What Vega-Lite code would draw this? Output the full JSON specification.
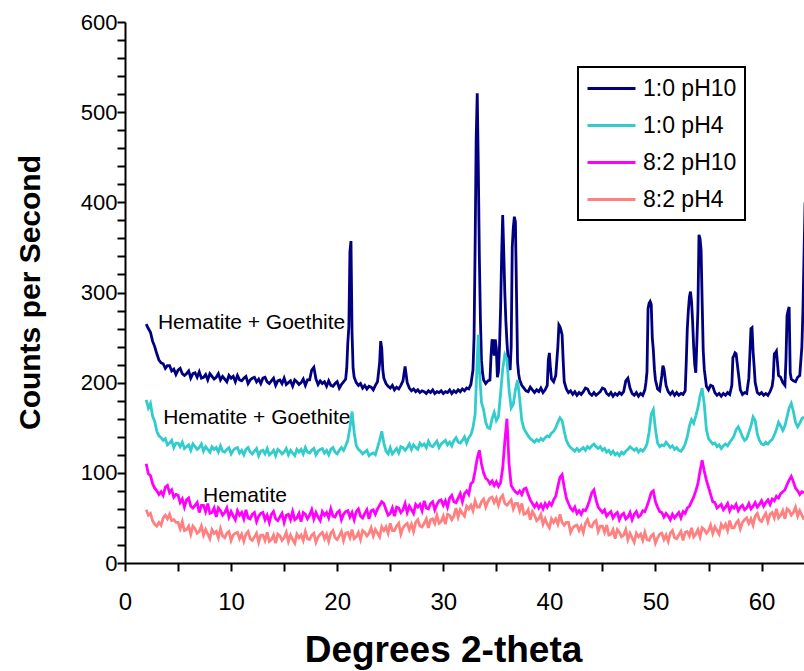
{
"$schema": "https://vega.github.io/schema/vega-lite/v6.json",
"autosize": {"type": "none"},
"width": 679,
"height": 541,
"padding": {"left": 125, "top": 22, "right": 0, "bottom": 108},
"background": "white",
"config": {
  "view": {"stroke": null},
  "font": "Liberation Sans",
  "axis": {"domainColor": "black", "domainWidth": 2, "tickColor": "black", "tickWidth": 2, "tickSize": 8, "labelColor": "black", "titleColor": "black", "grid": false, "labelFont": "Liberation Sans", "titleFont": "Liberation Sans", "labelOverlap": false, "labelFlush": false, "labelBound": false, "tickCount": 100},
  "legend": {"labelFont": "Liberation Sans", "strokeWidth": 2}
},
"datasets": {
"a": [
{"x":2,"y":265},{"x":2.2,"y":260},{"x":2.4,"y":256},{"x":2.6,"y":246},{"x":2.8,"y":240},{"x":3,"y":232},{"x":3.2,"y":225},{"x":3.4,"y":222},{"x":3.6,"y":221},{"x":3.8,"y":216},{"x":4,"y":219},
{"x":4.2,"y":219},{"x":4.4,"y":213},{"x":4.6,"y":215},{"x":4.8,"y":209},{"x":5,"y":214},{"x":5.2,"y":216},{"x":5.4,"y":210},{"x":5.6,"y":208},{"x":5.8,"y":210},{"x":6,"y":213},{"x":6.2,"y":205},{"x":6.4,"y":210},{"x":6.6,"y":211},{"x":6.8,"y":206},{"x":7,"y":212},{"x":7.2,"y":205},{"x":7.4,"y":206},{"x":7.6,"y":209},{"x":7.8,"y":203},{"x":8,"y":210},{"x":8.2,"y":207},{"x":8.4,"y":204},{"x":8.6,"y":206},{"x":8.8,"y":210},{"x":9,"y":203},{"x":9.2,"y":207},{"x":9.4,"y":204},{"x":9.6,"y":201},{"x":9.8,"y":208},{"x":10,"y":205},{"x":10.2,"y":207},{"x":10.4,"y":201},{"x":10.6,"y":208},{"x":10.8,"y":203},{"x":11,"y":202},{"x":11.2,"y":205},{"x":11.4,"y":207},{"x":11.6,"y":199},{"x":11.8,"y":203},{"x":12,"y":205},{"x":12.2,"y":206},{"x":12.4,"y":201},{"x":12.6,"y":204},{"x":12.8,"y":199},{"x":13,"y":205},{"x":13.2,"y":206},{"x":13.4,"y":201},{"x":13.6,"y":199},{"x":13.8,"y":202},{"x":14,"y":205},{"x":14.2,"y":197},{"x":14.4,"y":202},{"x":14.6,"y":203},{"x":14.8,"y":199},{"x":15,"y":205},{"x":15.2,"y":198},{"x":15.4,"y":200},{"x":15.6,"y":202},{"x":15.8,"y":196},{"x":16,"y":203},{"x":16.2,"y":201},{"x":16.4,"y":198},{"x":16.6,"y":200},{"x":16.8,"y":204},{"x":17,"y":197},{"x":17.2,"y":203},{"x":17.4,"y":203},{"x":17.6,"y":214},{"x":17.8,"y":217},{"x":18,"y":204},{"x":18.2,"y":198},{"x":18.4,"y":202},{"x":18.6,"y":199},{"x":18.8,"y":201},{"x":19,"y":196},{"x":19.2,"y":202},{"x":19.4,"y":197},{"x":19.6,"y":196},{"x":19.8,"y":199},{"x":20,"y":201},{"x":20.2,"y":194},{"x":20.4,"y":198},{"x":20.6,"y":201},
{"x":20.8,"y":204},{"x":20.9,"y":216},{"x":21,"y":244},{"x":21.1,"y":262},{"x":21.2,"y":345},{"x":21.3,"y":357},{"x":21.4,"y":255},{"x":21.5,"y":216},{"x":21.6,"y":206},{"x":21.8,"y":200},{"x":22,"y":197},{"x":22.2,"y":199},{"x":22.4,"y":194},{"x":22.6,"y":197},{"x":22.8,"y":193},{"x":23,"y":196},{"x":23.2,"y":195},{"x":23.4,"y":192},{"x":23.6,"y":197},{"x":23.8,"y":201},{"x":24,"y":222},{"x":24.1,"y":246},{"x":24.2,"y":238},{"x":24.3,"y":214},{"x":24.4,"y":205},{"x":24.6,"y":199},{"x":24.8,"y":196},{"x":25,"y":194},{"x":25.2,"y":197},{"x":25.4,"y":192},{"x":25.6,"y":195},{"x":25.8,"y":193},{"x":26,"y":197},{"x":26.2,"y":202},{"x":26.4,"y":218},{"x":26.6,"y":200},{"x":26.8,"y":194},{"x":27,"y":191},{"x":27.2,"y":193},{"x":27.4,"y":190},{"x":27.6,"y":192},{"x":27.8,"y":189},{"x":28,"y":191},{"x":28.2,"y":190},{"x":28.4,"y":188},{"x":28.6,"y":191},{"x":28.8,"y":189},{"x":29,"y":192},{"x":29.2,"y":188},{"x":29.4,"y":190},{"x":29.6,"y":189},{"x":29.8,"y":191},{"x":30,"y":188},{"x":30.2,"y":190},{"x":30.4,"y":189},{"x":30.6,"y":192},{"x":30.8,"y":188},{"x":31,"y":191},{"x":31.2,"y":189},{"x":31.4,"y":192},{"x":31.6,"y":190},{"x":31.8,"y":193},{"x":32,"y":191},{"x":32.2,"y":194},{"x":32.4,"y":193},{"x":32.6,"y":198},{"x":32.8,"y":214},{"x":32.9,"y":250},{"x":33,"y":350},{"x":33.1,"y":470},{"x":33.2,"y":521},{"x":33.3,"y":440},{"x":33.4,"y":340},{"x":33.5,"y":270},{"x":33.6,"y":225},{"x":33.7,"y":211},{"x":33.8,"y":203},{"x":34,"y":199},{"x":34.2,"y":202},{"x":34.4,"y":203},{"x":34.5,"y":230},{"x":34.6,"y":248},{"x":34.7,"y":245},{"x":34.8,"y":230},{"x":34.9,"y":248},{"x":35,"y":238},{"x":35.1,"y":206},{"x":35.2,"y":212},{"x":35.3,"y":240},{"x":35.4,"y":281},{"x":35.5,"y":340},{"x":35.6,"y":386},{"x":35.7,"y":345},{"x":35.8,"y":300},{"x":35.9,"y":268},{"x":36,"y":245},{"x":36.1,"y":228},{"x":36.2,"y":217},{"x":36.3,"y":214},{"x":36.4,"y":240},{"x":36.5,"y":350},{"x":36.6,"y":372},{"x":36.7,"y":384},{"x":36.8,"y":378},{"x":36.9,"y":300},{"x":37,"y":223},{"x":37.1,"y":210},{"x":37.2,"y":203},{"x":37.4,"y":197},{"x":37.6,"y":194},{"x":37.8,"y":191},{"x":38,"y":190},{"x":38.2,"y":195},{"x":38.4,"y":192},{"x":38.6,"y":189},{"x":38.8,"y":192},{"x":39,"y":190},{"x":39.2,"y":194},{"x":39.4,"y":189},{"x":39.6,"y":192},{"x":39.8,"y":197},{"x":39.9,"y":225},{"x":40,"y":233},{"x":40.1,"y":216},{"x":40.2,"y":204},{"x":40.4,"y":201},{"x":40.6,"y":208},{"x":40.8,"y":240},{"x":40.9,"y":264},{"x":41,"y":262},{"x":41.1,"y":258},{"x":41.2,"y":253},{"x":41.3,"y":225},{"x":41.4,"y":201},{"x":41.6,"y":193},{"x":41.8,"y":189},{"x":42,"y":191},{"x":42.2,"y":187},{"x":42.4,"y":190},{"x":42.6,"y":186},{"x":42.8,"y":189},{"x":43,"y":187},{"x":43.2,"y":190},{"x":43.4,"y":194},{"x":43.6,"y":193},{"x":43.8,"y":188},{"x":44,"y":186},{"x":44.2,"y":189},{"x":44.4,"y":186},{"x":44.6,"y":188},{"x":44.8,"y":190},{"x":45,"y":194},{"x":45.2,"y":193},{"x":45.4,"y":188},{"x":45.6,"y":186},{"x":45.8,"y":189},{"x":46,"y":185},{"x":46.2,"y":188},{"x":46.4,"y":186},{"x":46.6,"y":189},{"x":46.8,"y":187},{"x":47,"y":190},{"x":47.2,"y":202},{"x":47.4,"y":205},{"x":47.6,"y":194},{"x":47.8,"y":188},{"x":48,"y":186},{"x":48.2,"y":189},{"x":48.4,"y":185},{"x":48.6,"y":188},{"x":48.8,"y":186},{"x":49,"y":192},{"x":49.1,"y":200},{"x":49.2,"y":212},{"x":49.3,"y":282},{"x":49.4,"y":288},{"x":49.5,"y":290},{"x":49.6,"y":287},{"x":49.7,"y":250},{"x":49.8,"y":236},{"x":49.9,"y":215},{"x":50,"y":203},{"x":50.2,"y":193},{"x":50.4,"y":191},{"x":50.6,"y":208},{"x":50.7,"y":219},{"x":50.8,"y":215},{"x":51,"y":197},{"x":51.2,"y":190},{"x":51.4,"y":187},{"x":51.6,"y":190},{"x":51.8,"y":186},{"x":52,"y":189},{"x":52.2,"y":186},{"x":52.4,"y":188},{"x":52.6,"y":187},{"x":52.8,"y":191},{"x":52.9,"y":222},{"x":53,"y":260},{"x":53.1,"y":280},{"x":53.2,"y":295},{"x":53.3,"y":301},{"x":53.4,"y":290},{"x":53.5,"y":268},{"x":53.6,"y":240},{"x":53.7,"y":220},{"x":53.8,"y":211},{"x":53.9,"y":245},{"x":54,"y":280},{"x":54.1,"y":364},{"x":54.2,"y":360},{"x":54.3,"y":347},{"x":54.4,"y":290},{"x":54.5,"y":236},{"x":54.6,"y":215},{"x":54.8,"y":196},{"x":55,"y":192},{"x":55.2,"y":197},{"x":55.4,"y":196},{"x":55.6,"y":189},{"x":55.8,"y":186},{"x":56,"y":188},{"x":56.2,"y":185},{"x":56.4,"y":188},{"x":56.6,"y":186},{"x":56.8,"y":189},{"x":57,"y":187},{"x":57.2,"y":197},{"x":57.3,"y":228},{"x":57.4,"y":230},{"x":57.5,"y":233},{"x":57.6,"y":232},{"x":57.8,"y":212},{"x":58,"y":192},{"x":58.2,"y":187},{"x":58.4,"y":189},{"x":58.6,"y":188},{"x":58.8,"y":205},{"x":58.9,"y":232},{"x":59,"y":260},{"x":59.1,"y":261},{"x":59.2,"y":235},{"x":59.3,"y":218},{"x":59.4,"y":200},{"x":59.6,"y":189},{"x":59.8,"y":187},{"x":60,"y":189},{"x":60.2,"y":186},{"x":60.4,"y":188},{"x":60.6,"y":186},{"x":60.8,"y":190},{"x":61,"y":196},{"x":61.1,"y":205},{"x":61.2,"y":232},{"x":61.3,"y":233},{"x":61.4,"y":235},{"x":61.5,"y":222},{"x":61.6,"y":208},{"x":61.8,"y":206},{"x":62,"y":200},{"x":62.2,"y":197},{"x":62.3,"y":225},{"x":62.4,"y":274},{"x":62.5,"y":280},{"x":62.6,"y":284},{"x":62.7,"y":211},{"x":62.8,"y":204},{"x":63,"y":202},{"x":63.2,"y":201},{"x":63.4,"y":206},{"x":63.6,"y":208},{"x":63.8,"y":240},{"x":63.9,"y":280},{"x":64,"y":340},{"x":64.1,"y":400}
],
"b": [
{"x":2,"y":181},{"x":2.2,"y":172},{"x":2.4,"y":177},{"x":2.6,"y":163},{"x":2.8,"y":157},{"x":3,"y":146},{"x":3.2,"y":141},{"x":3.4,"y":139},{"x":3.6,"y":136},{"x":3.8,"y":138},{"x":4,"y":131},{"x":4.2,"y":133},{"x":4.4,"y":136},{"x":4.6,"y":128},{"x":4.8,"y":133},{"x":5,"y":133},{"x":5.2,"y":129},{"x":5.4,"y":134},{"x":5.6,"y":127},{"x":5.8,"y":129},{"x":6,"y":131},{"x":6.2,"y":125},{"x":6.4,"y":132},{"x":6.6,"y":129},{"x":6.8,"y":126},{"x":7,"y":128},{"x":7.2,"y":132},{"x":7.4,"y":124},{"x":7.6,"y":129},{"x":7.8,"y":126},{"x":8,"y":123},{"x":8.2,"y":129},{"x":8.4,"y":126},{"x":8.6,"y":128},{"x":8.8,"y":123},{"x":9,"y":130},{"x":9.2,"y":124},{"x":9.4,"y":123},{"x":9.6,"y":126},{"x":9.8,"y":128},{"x":10,"y":121},{"x":10.2,"y":125},{"x":10.4,"y":127},{"x":10.6,"y":128},{"x":10.8,"y":122},{"x":11,"y":125},{"x":11.2,"y":120},{"x":11.4,"y":126},{"x":11.6,"y":128},{"x":11.8,"y":123},{"x":12,"y":121},{"x":12.2,"y":124},{"x":12.4,"y":127},{"x":12.6,"y":119},{"x":12.8,"y":124},{"x":13,"y":125},{"x":13.2,"y":121},{"x":13.4,"y":127},{"x":13.6,"y":120},{"x":13.8,"y":122},{"x":14,"y":125},{"x":14.2,"y":119},{"x":14.4,"y":126},{"x":14.6,"y":124},{"x":14.8,"y":121},{"x":15,"y":123},{"x":15.2,"y":127},{"x":15.4,"y":120},{"x":15.6,"y":125},{"x":15.8,"y":122},{"x":16,"y":119},{"x":16.2,"y":126},{"x":16.4,"y":123},{"x":16.6,"y":126},{"x":16.8,"y":121},{"x":17,"y":128},{"x":17.2,"y":123},{"x":17.4,"y":122},{"x":17.6,"y":125},{"x":17.8,"y":127},{"x":18,"y":120},{"x":18.2,"y":124},{"x":18.4,"y":126},{"x":18.6,"y":127},{"x":18.8,"y":122},{"x":19,"y":125},{"x":19.2,"y":120},{"x":19.4,"y":126},{"x":19.6,"y":128},{"x":19.8,"y":123},{"x":20,"y":121},{"x":20.2,"y":125},{"x":20.4,"y":128},{"x":20.6,"y":125},{"x":20.8,"y":130},{"x":21,"y":136},{"x":21.2,"y":150},{"x":21.4,"y":168},{"x":21.6,"y":145},{"x":21.8,"y":130},{"x":22,"y":126},{"x":22.2,"y":124},{"x":22.4,"y":121},{"x":22.6,"y":123},{"x":22.8,"y":125},{"x":23,"y":119},{"x":23.2,"y":121},{"x":23.4,"y":122},{"x":23.6,"y":120},{"x":23.8,"y":128},{"x":24,"y":136},{"x":24.2,"y":146},{"x":24.4,"y":133},{"x":24.6,"y":124},{"x":24.8,"y":121},{"x":25,"y":128},{"x":25.2,"y":121},{"x":25.4,"y":124},{"x":25.6,"y":127},{"x":25.8,"y":122},{"x":26,"y":129},{"x":26.2,"y":128},{"x":26.4,"y":125},{"x":26.6,"y":128},{"x":26.8,"y":132},{"x":27,"y":126},{"x":27.2,"y":131},{"x":27.4,"y":128},{"x":27.6,"y":126},{"x":27.8,"y":133},{"x":28,"y":130},{"x":28.2,"y":132},{"x":28.4,"y":128},{"x":28.6,"y":135},{"x":28.8,"y":130},{"x":29,"y":129},{"x":29.2,"y":132},{"x":29.4,"y":135},{"x":29.6,"y":128},{"x":29.8,"y":132},{"x":30,"y":134},{"x":30.2,"y":136},{"x":30.4,"y":131},{"x":30.6,"y":134},{"x":30.8,"y":130},{"x":31,"y":136},{"x":31.2,"y":139},{"x":31.4,"y":134},{"x":31.6,"y":133},{"x":31.8,"y":136},{"x":32,"y":140},{"x":32.2,"y":133},{"x":32.4,"y":139},{"x":32.6,"y":142},{"x":32.8,"y":150},{"x":33,"y":165},{"x":33.2,"y":225},{"x":33.3,"y":253},{"x":33.4,"y":215},{"x":33.6,"y":178},{"x":33.8,"y":170},{"x":34,"y":156},{"x":34.2,"y":150},{"x":34.4,"y":149},{"x":34.6,"y":160},{"x":34.8,"y":167},{"x":35,"y":158},{"x":35.2,"y":162},{"x":35.4,"y":188},{"x":35.6,"y":215},{"x":35.8,"y":231},{"x":36,"y":226},{"x":36.2,"y":192},{"x":36.4,"y":172},{"x":36.6,"y":176},{"x":36.8,"y":192},{"x":37,"y":203},{"x":37.2,"y":182},{"x":37.4,"y":158},{"x":37.6,"y":149},{"x":37.8,"y":145},{"x":38,"y":141},{"x":38.2,"y":138},{"x":38.4,"y":136},{"x":38.6,"y":134},{"x":38.8,"y":137},{"x":39,"y":135},{"x":39.2,"y":138},{"x":39.4,"y":136},{"x":39.6,"y":139},{"x":39.8,"y":141},{"x":40,"y":140},{"x":40.2,"y":144},{"x":40.4,"y":146},{"x":40.6,"y":150},{"x":40.8,"y":156},{"x":41,"y":161},{"x":41.2,"y":158},{"x":41.4,"y":146},{"x":41.6,"y":136},{"x":41.8,"y":131},{"x":42,"y":128},{"x":42.2,"y":126},{"x":42.4,"y":124},{"x":42.6,"y":127},{"x":42.8,"y":124},{"x":43,"y":126},{"x":43.2,"y":128},{"x":43.4,"y":125},{"x":43.6,"y":129},{"x":43.8,"y":127},{"x":44,"y":130},{"x":44.2,"y":132},{"x":44.4,"y":129},{"x":44.6,"y":127},{"x":44.8,"y":129},{"x":45,"y":125},{"x":45.2,"y":127},{"x":45.4,"y":123},{"x":45.6,"y":125},{"x":45.8,"y":121},{"x":46,"y":124},{"x":46.2,"y":120},{"x":46.4,"y":122},{"x":46.6,"y":119},{"x":46.8,"y":123},{"x":47,"y":121},{"x":47.2,"y":124},{"x":47.4,"y":126},{"x":47.6,"y":129},{"x":47.8,"y":127},{"x":48,"y":125},{"x":48.2,"y":127},{"x":48.4,"y":123},{"x":48.6,"y":126},{"x":48.8,"y":124},{"x":49,"y":127},{"x":49.2,"y":132},{"x":49.4,"y":145},{"x":49.6,"y":165},{"x":49.8,"y":170},{"x":50,"y":148},{"x":50.2,"y":133},{"x":50.4,"y":129},{"x":50.6,"y":131},{"x":50.8,"y":130},{"x":51,"y":134},{"x":51.2,"y":131},{"x":51.4,"y":128},{"x":51.6,"y":130},{"x":51.8,"y":126},{"x":52,"y":128},{"x":52.2,"y":125},{"x":52.4,"y":124},{"x":52.6,"y":127},{"x":52.8,"y":132},{"x":53,"y":140},{"x":53.2,"y":152},{"x":53.4,"y":159},{"x":53.6,"y":155},{"x":53.8,"y":163},{"x":54,"y":172},{"x":54.2,"y":185},{"x":54.4,"y":194},{"x":54.6,"y":176},{"x":54.8,"y":148},{"x":55,"y":138},{"x":55.2,"y":135},{"x":55.4,"y":132},{"x":55.6,"y":133},{"x":55.8,"y":129},{"x":56,"y":131},{"x":56.2,"y":127},{"x":56.4,"y":130},{"x":56.6,"y":132},{"x":56.8,"y":130},{"x":57,"y":134},{"x":57.2,"y":137},{"x":57.4,"y":141},{"x":57.6,"y":148},{"x":57.8,"y":151},{"x":58,"y":146},{"x":58.2,"y":140},{"x":58.4,"y":136},{"x":58.6,"y":138},{"x":58.8,"y":145},{"x":59,"y":152},{"x":59.2,"y":162},{"x":59.4,"y":158},{"x":59.6,"y":143},{"x":59.8,"y":136},{"x":60,"y":132},{"x":60.2,"y":131},{"x":60.4,"y":134},{"x":60.6,"y":132},{"x":60.8,"y":135},{"x":61,"y":137},{"x":61.2,"y":142},{"x":61.4,"y":148},{"x":61.6,"y":156},{"x":61.8,"y":152},{"x":62,"y":147},{"x":62.2,"y":152},{"x":62.4,"y":162},{"x":62.6,"y":172},{"x":62.8,"y":177},{"x":63,"y":168},{"x":63.2,"y":156},{"x":63.4,"y":151},{"x":63.6,"y":155},{"x":63.8,"y":160},{"x":64,"y":162}
],
"c": [
{"x":2,"y":110},{"x":2.2,"y":99},{"x":2.4,"y":97},{"x":2.6,"y":88},{"x":2.8,"y":83},{"x":3,"y":80},{"x":3.2,"y":76},{"x":3.4,"y":79},{"x":3.6,"y":75},{"x":3.8,"y":84},{"x":4,"y":86},{"x":4.2,"y":78},{"x":4.4,"y":81},{"x":4.6,"y":73},{"x":4.8,"y":76},{"x":5,"y":75},{"x":5.2,"y":67},{"x":5.4,"y":71},{"x":5.6,"y":62},{"x":5.8,"y":70},{"x":6,"y":72},{"x":6.2,"y":63},{"x":6.4,"y":61},{"x":6.6,"y":64},{"x":6.8,"y":67},{"x":7,"y":56},{"x":7.2,"y":64},{"x":7.4,"y":64},{"x":7.6,"y":57},{"x":7.8,"y":66},{"x":8,"y":55},{"x":8.2,"y":56},{"x":8.4,"y":61},{"x":8.6,"y":51},{"x":8.8,"y":61},{"x":9,"y":58},{"x":9.2,"y":53},{"x":9.4,"y":56},{"x":9.6,"y":61},{"x":9.8,"y":51},{"x":10,"y":57},{"x":10.2,"y":52},{"x":10.4,"y":48},{"x":10.6,"y":58},{"x":10.8,"y":53},{"x":11,"y":56},{"x":11.2,"y":49},{"x":11.4,"y":59},{"x":11.6,"y":50},{"x":11.8,"y":49},{"x":12,"y":54},{"x":12.2,"y":56},{"x":12.4,"y":46},{"x":12.6,"y":52},{"x":12.8,"y":55},{"x":13,"y":56},{"x":13.2,"y":48},{"x":13.4,"y":53},{"x":13.6,"y":45},{"x":13.8,"y":54},{"x":14,"y":57},{"x":14.2,"y":49},{"x":14.4,"y":47},{"x":14.6,"y":51},{"x":14.8,"y":55},{"x":15,"y":45},{"x":15.2,"y":53},{"x":15.4,"y":54},{"x":15.6,"y":48},{"x":15.8,"y":57},{"x":16,"y":48},{"x":16.2,"y":50},{"x":16.4,"y":55},{"x":16.6,"y":46},{"x":16.8,"y":56},{"x":17,"y":54},{"x":17.2,"y":49},{"x":17.4,"y":53},{"x":17.6,"y":59},{"x":17.8,"y":49},{"x":18,"y":56},{"x":18.2,"y":51},{"x":18.4,"y":47},{"x":18.6,"y":57},{"x":18.8,"y":53},{"x":19,"y":56},{"x":19.2,"y":50},{"x":19.4,"y":60},{"x":19.6,"y":52},{"x":19.8,"y":51},{"x":20,"y":56},{"x":20.2,"y":58},{"x":20.4,"y":48},{"x":20.6,"y":54},{"x":20.8,"y":57},{"x":21,"y":58},{"x":21.2,"y":51},{"x":21.4,"y":56},{"x":21.6,"y":48},{"x":21.8,"y":57},{"x":22,"y":60},{"x":22.2,"y":52},{"x":22.4,"y":50},{"x":22.6,"y":55},{"x":22.8,"y":59},{"x":23,"y":49},{"x":23.2,"y":58},{"x":23.4,"y":59},{"x":23.6,"y":54},{"x":23.8,"y":60},{"x":24,"y":64},{"x":24.2,"y":68},{"x":24.4,"y":66},{"x":24.6,"y":59},{"x":24.8,"y":53},{"x":25,"y":55},{"x":25.2,"y":61},{"x":25.4,"y":52},{"x":25.6,"y":62},{"x":25.8,"y":61},{"x":26,"y":56},{"x":26.2,"y":59},{"x":26.4,"y":66},{"x":26.6,"y":56},{"x":26.8,"y":63},{"x":27,"y":59},{"x":27.2,"y":55},{"x":27.4,"y":65},{"x":27.6,"y":62},{"x":27.8,"y":65},{"x":28,"y":58},{"x":28.2,"y":69},{"x":28.4,"y":61},{"x":28.6,"y":60},{"x":28.8,"y":66},{"x":29,"y":68},{"x":29.2,"y":59},{"x":29.4,"y":65},{"x":29.6,"y":69},{"x":29.8,"y":70},{"x":30,"y":64},{"x":30.2,"y":69},{"x":30.4,"y":62},{"x":30.6,"y":72},{"x":30.8,"y":75},{"x":31,"y":68},{"x":31.2,"y":67},{"x":31.4,"y":72},{"x":31.6,"y":77},{"x":31.8,"y":68},{"x":32,"y":77},{"x":32.2,"y":80},{"x":32.4,"y":76},{"x":32.6,"y":88},{"x":32.8,"y":90},{"x":33,"y":102},{"x":33.2,"y":116},{"x":33.4,"y":125},{"x":33.6,"y":110},{"x":33.8,"y":100},{"x":34,"y":94},{"x":34.2,"y":92},{"x":34.4,"y":88},{"x":34.6,"y":91},{"x":34.8,"y":86},{"x":35,"y":90},{"x":35.2,"y":85},{"x":35.4,"y":89},{"x":35.6,"y":105},{"x":35.8,"y":135},{"x":36,"y":160},{"x":36.2,"y":110},{"x":36.4,"y":86},{"x":36.6,"y":82},{"x":36.8,"y":79},{"x":37,"y":77},{"x":37.2,"y":80},{"x":37.4,"y":76},{"x":37.6,"y":82},{"x":37.8,"y":83},{"x":38,"y":76},{"x":38.2,"y":70},{"x":38.4,"y":66},{"x":38.6,"y":62},{"x":38.8,"y":66},{"x":39,"y":61},{"x":39.2,"y":65},{"x":39.4,"y":60},{"x":39.6,"y":66},{"x":39.8,"y":62},{"x":40,"y":67},{"x":40.2,"y":64},{"x":40.4,"y":70},{"x":40.6,"y":74},{"x":40.8,"y":85},{"x":41,"y":95},{"x":41.2,"y":98},{"x":41.4,"y":84},{"x":41.6,"y":72},{"x":41.8,"y":66},{"x":42,"y":61},{"x":42.2,"y":58},{"x":42.4,"y":62},{"x":42.6,"y":55},{"x":42.8,"y":58},{"x":43,"y":54},{"x":43.2,"y":59},{"x":43.4,"y":58},{"x":43.6,"y":63},{"x":43.8,"y":70},{"x":44,"y":78},{"x":44.2,"y":81},{"x":44.4,"y":70},{"x":44.6,"y":62},{"x":44.8,"y":59},{"x":45,"y":56},{"x":45.2,"y":59},{"x":45.4,"y":52},{"x":45.6,"y":55},{"x":45.8,"y":57},{"x":46,"y":50},{"x":46.2,"y":54},{"x":46.4,"y":56},{"x":46.6,"y":48},{"x":46.8,"y":53},{"x":47,"y":55},{"x":47.2,"y":49},{"x":47.4,"y":51},{"x":47.6,"y":56},{"x":47.8,"y":48},{"x":48,"y":54},{"x":48.2,"y":57},{"x":48.4,"y":51},{"x":48.6,"y":53},{"x":48.8,"y":58},{"x":49,"y":57},{"x":49.2,"y":63},{"x":49.4,"y":70},{"x":49.6,"y":78},{"x":49.8,"y":80},{"x":50,"y":68},{"x":50.2,"y":62},{"x":50.4,"y":57},{"x":50.6,"y":56},{"x":50.8,"y":51},{"x":51,"y":55},{"x":51.2,"y":52},{"x":51.4,"y":48},{"x":51.6,"y":54},{"x":51.8,"y":50},{"x":52,"y":53},{"x":52.2,"y":56},{"x":52.4,"y":50},{"x":52.6,"y":57},{"x":52.8,"y":55},{"x":53,"y":61},{"x":53.2,"y":63},{"x":53.4,"y":68},{"x":53.6,"y":73},{"x":53.8,"y":80},{"x":54,"y":88},{"x":54.2,"y":102},{"x":54.4,"y":114},{"x":54.6,"y":102},{"x":54.8,"y":92},{"x":55,"y":84},{"x":55.2,"y":76},{"x":55.4,"y":68},{"x":55.6,"y":67},{"x":55.8,"y":61},{"x":56,"y":63},{"x":56.2,"y":65},{"x":56.4,"y":59},{"x":56.6,"y":62},{"x":56.8,"y":66},{"x":57,"y":58},{"x":57.2,"y":63},{"x":57.4,"y":61},{"x":57.6,"y":65},{"x":57.8,"y":58},{"x":58,"y":62},{"x":58.2,"y":64},{"x":58.4,"y":59},{"x":58.6,"y":61},{"x":58.8,"y":66},{"x":59,"y":60},{"x":59.2,"y":63},{"x":59.4,"y":67},{"x":59.6,"y":62},{"x":59.8,"y":65},{"x":60,"y":69},{"x":60.2,"y":63},{"x":60.4,"y":67},{"x":60.6,"y":70},{"x":60.8,"y":65},{"x":61,"y":71},{"x":61.2,"y":69},{"x":61.4,"y":74},{"x":61.6,"y":72},{"x":61.8,"y":77},{"x":62,"y":79},{"x":62.2,"y":81},{"x":62.4,"y":87},{"x":62.6,"y":92},{"x":62.8,"y":96},{"x":63,"y":90},{"x":63.2,"y":83},{"x":63.4,"y":80},{"x":63.6,"y":76},{"x":63.8,"y":79},{"x":64,"y":78}
],
"d": [
{"x":2,"y":59},{"x":2.2,"y":53},{"x":2.4,"y":55},{"x":2.6,"y":47},{"x":2.8,"y":43},{"x":3,"y":41},{"x":3.2,"y":45},{"x":3.4,"y":42},{"x":3.6,"y":50},{"x":3.8,"y":53},{"x":4,"y":49},{"x":4.2,"y":54},{"x":4.4,"y":47},{"x":4.6,"y":48},{"x":4.8,"y":45},{"x":5,"y":45},{"x":5.2,"y":38},{"x":5.4,"y":46},{"x":5.6,"y":36},{"x":5.8,"y":37},{"x":6,"y":41},{"x":6.2,"y":32},{"x":6.4,"y":41},{"x":6.6,"y":38},{"x":6.8,"y":33},{"x":7,"y":35},{"x":7.2,"y":41},{"x":7.4,"y":31},{"x":7.6,"y":37},{"x":7.8,"y":32},{"x":8,"y":27},{"x":8.2,"y":37},{"x":8.4,"y":33},{"x":8.6,"y":35},{"x":8.8,"y":28},{"x":9,"y":38},{"x":9.2,"y":30},{"x":9.4,"y":28},{"x":9.6,"y":33},{"x":9.8,"y":35},{"x":10,"y":25},{"x":10.2,"y":31},{"x":10.4,"y":33},{"x":10.6,"y":34},{"x":10.8,"y":27},{"x":11,"y":32},{"x":11.2,"y":24},{"x":11.4,"y":32},{"x":11.6,"y":35},{"x":11.8,"y":27},{"x":12,"y":25},{"x":12.2,"y":29},{"x":12.4,"y":33},{"x":12.6,"y":23},{"x":12.8,"y":31},{"x":13,"y":31},{"x":13.2,"y":25},{"x":13.4,"y":34},{"x":13.6,"y":24},{"x":13.8,"y":26},{"x":14,"y":31},{"x":14.2,"y":22},{"x":14.4,"y":32},{"x":14.6,"y":30},{"x":14.8,"y":25},{"x":15,"y":28},{"x":15.2,"y":34},{"x":15.4,"y":24},{"x":15.6,"y":31},{"x":15.8,"y":26},{"x":16,"y":22},{"x":16.2,"y":32},{"x":16.4,"y":28},{"x":16.6,"y":31},{"x":16.8,"y":25},{"x":17,"y":35},{"x":17.2,"y":27},{"x":17.4,"y":26},{"x":17.6,"y":31},{"x":17.8,"y":33},{"x":18,"y":23},{"x":18.2,"y":29},{"x":18.4,"y":32},{"x":18.6,"y":34},{"x":18.8,"y":27},{"x":19,"y":32},{"x":19.2,"y":24},{"x":19.4,"y":33},{"x":19.6,"y":36},{"x":19.8,"y":28},{"x":20,"y":26},{"x":20.2,"y":30},{"x":20.4,"y":35},{"x":20.6,"y":25},{"x":20.8,"y":33},{"x":21,"y":34},{"x":21.2,"y":28},{"x":21.4,"y":37},{"x":21.6,"y":27},{"x":21.8,"y":29},{"x":22,"y":34},{"x":22.2,"y":26},{"x":22.4,"y":36},{"x":22.6,"y":34},{"x":22.8,"y":30},{"x":23,"y":33},{"x":23.2,"y":39},{"x":23.4,"y":30},{"x":23.6,"y":37},{"x":23.8,"y":33},{"x":24,"y":29},{"x":24.2,"y":40},{"x":24.4,"y":36},{"x":24.6,"y":40},{"x":24.8,"y":33},{"x":25,"y":44},{"x":25.2,"y":36},{"x":25.4,"y":36},{"x":25.6,"y":41},{"x":25.8,"y":44},{"x":26,"y":32},{"x":26.2,"y":39},{"x":26.4,"y":42},{"x":26.6,"y":44},{"x":26.8,"y":37},{"x":27,"y":43},{"x":27.2,"y":35},{"x":27.4,"y":45},{"x":27.6,"y":48},{"x":27.8,"y":41},{"x":28,"y":40},{"x":28.2,"y":44},{"x":28.4,"y":49},{"x":28.6,"y":39},{"x":28.8,"y":48},{"x":29,"y":49},{"x":29.2,"y":44},{"x":29.4,"y":53},{"x":29.6,"y":44},{"x":29.8,"y":46},{"x":30,"y":52},{"x":30.2,"y":43},{"x":30.4,"y":54},{"x":30.6,"y":53},{"x":30.8,"y":48},{"x":31,"y":52},{"x":31.2,"y":61},{"x":31.4,"y":51},{"x":31.6,"y":59},{"x":31.8,"y":55},{"x":32,"y":52},{"x":32.2,"y":63},{"x":32.4,"y":60},{"x":32.6,"y":64},{"x":32.8,"y":58},{"x":33,"y":69},{"x":33.2,"y":62},{"x":33.4,"y":62},{"x":33.6,"y":68},{"x":33.8,"y":71},{"x":34,"y":62},{"x":34.2,"y":68},{"x":34.4,"y":72},{"x":34.6,"y":73},{"x":34.8,"y":67},{"x":35,"y":72},{"x":35.2,"y":64},{"x":35.4,"y":72},{"x":35.6,"y":75},{"x":35.8,"y":66},{"x":36,"y":64},{"x":36.2,"y":67},{"x":36.4,"y":70},{"x":36.6,"y":60},{"x":36.8,"y":66},{"x":37,"y":66},{"x":37.2,"y":58},{"x":37.4,"y":66},{"x":37.6,"y":54},{"x":37.8,"y":55},{"x":38,"y":59},{"x":38.2,"y":48},{"x":38.4,"y":57},{"x":38.6,"y":53},{"x":38.8,"y":47},{"x":39,"y":49},{"x":39.2,"y":54},{"x":39.4,"y":43},{"x":39.6,"y":49},{"x":39.8,"y":43},{"x":40,"y":39},{"x":40.2,"y":49},{"x":40.4,"y":45},{"x":40.6,"y":49},{"x":40.8,"y":43},{"x":41,"y":54},{"x":41.2,"y":45},{"x":41.4,"y":42},{"x":41.6,"y":45},{"x":41.8,"y":45},{"x":42,"y":34},{"x":42.2,"y":39},{"x":42.4,"y":41},{"x":42.6,"y":42},{"x":42.8,"y":36},{"x":43,"y":41},{"x":43.2,"y":34},{"x":43.4,"y":44},{"x":43.6,"y":48},{"x":43.8,"y":41},{"x":44,"y":40},{"x":44.2,"y":45},{"x":44.4,"y":47},{"x":44.6,"y":35},{"x":44.8,"y":41},{"x":45,"y":41},{"x":45.2,"y":34},{"x":45.4,"y":42},{"x":45.6,"y":31},{"x":45.8,"y":32},{"x":46,"y":37},{"x":46.2,"y":27},{"x":46.4,"y":37},{"x":46.6,"y":34},{"x":46.8,"y":29},{"x":47,"y":31},{"x":47.2,"y":37},{"x":47.4,"y":26},{"x":47.6,"y":33},{"x":47.8,"y":28},{"x":48,"y":23},{"x":48.2,"y":33},{"x":48.4,"y":29},{"x":48.6,"y":32},{"x":48.8,"y":25},{"x":49,"y":34},{"x":49.2,"y":26},{"x":49.4,"y":25},{"x":49.6,"y":30},{"x":49.8,"y":32},{"x":50,"y":22},{"x":50.2,"y":28},{"x":50.4,"y":32},{"x":50.6,"y":33},{"x":50.8,"y":26},{"x":51,"y":31},{"x":51.2,"y":24},{"x":51.4,"y":33},{"x":51.6,"y":36},{"x":51.8,"y":28},{"x":52,"y":27},{"x":52.2,"y":31},{"x":52.4,"y":35},{"x":52.6,"y":25},{"x":52.8,"y":34},{"x":53,"y":35},{"x":53.2,"y":30},{"x":53.4,"y":39},{"x":53.6,"y":29},{"x":53.8,"y":32},{"x":54,"y":37},{"x":54.2,"y":29},{"x":54.4,"y":39},{"x":54.6,"y":37},{"x":54.8,"y":33},{"x":55,"y":36},{"x":55.2,"y":42},{"x":55.4,"y":33},{"x":55.6,"y":40},{"x":55.8,"y":36},{"x":56,"y":32},{"x":56.2,"y":43},{"x":56.4,"y":39},{"x":56.6,"y":43},{"x":56.8,"y":36},{"x":57,"y":47},{"x":57.2,"y":39},{"x":57.4,"y":39},{"x":57.6,"y":44},{"x":57.8,"y":47},{"x":58,"y":38},{"x":58.2,"y":45},{"x":58.4,"y":48},{"x":58.6,"y":50},{"x":58.8,"y":44},{"x":59,"y":49},{"x":59.2,"y":42},{"x":59.4,"y":52},{"x":59.6,"y":55},{"x":59.8,"y":48},{"x":60,"y":46},{"x":60.2,"y":51},{"x":60.4,"y":55},{"x":60.6,"y":46},{"x":60.8,"y":54},{"x":61,"y":56},{"x":61.2,"y":50},{"x":61.4,"y":60},{"x":61.6,"y":50},{"x":61.8,"y":53},{"x":62,"y":58},{"x":62.2,"y":49},{"x":62.4,"y":60},{"x":62.6,"y":58},{"x":62.8,"y":53},{"x":63,"y":56},{"x":63.2,"y":62},{"x":63.4,"y":52},{"x":63.6,"y":58},{"x":63.8,"y":53},{"x":64,"y":48}
],
"notes": [
{"x":3.1,"y":266,"label":"Hematite + Goethite"},
{"x":3.6,"y":161,"label":"Hematite + Goethite"},
{"x":7.35,"y":74,"label":"Hematite"}
]
},
"layer": [
{
 "data": {"name": "a"},
 "mark": {"type": "line", "strokeWidth": 2.8, "clip": true},
 "encoding": {
  "x": {"field": "x", "type": "quantitative", "scale": {"domain": [0, 64], "nice": false, "zero": false},
        "axis": {"title": "Degrees 2-theta", "values": [0,5,10,15,20,25,30,35,40,45,50,55,60], "tickCount": 100, "format": "d", "labelExpr": "datum.value % 10 === 0 ? datum.label : ''", "labelFontSize": 24, "labelPadding": 19, "titleFontSize": 37, "titleFontWeight": "bold", "titleX": 318, "titleY": 87, "titleBaseline": "middle", "titleAlign": "center"}},
  "y": {"field": "y", "type": "quantitative", "scale": {"domain": [0, 600], "nice": false},
        "axis": {"title": "Counts per Second", "values": [0,20,40,60,80,100,120,140,160,180,200,220,240,260,280,300,320,340,360,380,400,420,440,460,480,500,520,540,560,580,600], "tickCount": 100, "format": "d", "labelExpr": "datum.value % 100 === 0 ? datum.label : ''", "labelFontSize": 22, "labelPadding": 0, "titleFontSize": 30, "titleFontWeight": "bold", "titleX": -95, "titleY": 270, "titleAngle": -90, "titleBaseline": "middle", "titleAlign": "center"}},
  "color": {"datum": "1:0 pH10", "type": "nominal",
   "scale": {"domain": ["1:0 pH10", "1:0 pH4", "8:2 pH10", "8:2 pH4"], "range": ["#000080", "#33CCCC", "#FF00FF", "#FF8080"]},
   "legend": {"title": null, "orient": "none", "legendX": 453, "legendY": 45, "labelFontSize": 23, "labelColor": "black", "symbolType": "M-1,0L3,0", "symbolSize": 576, "symbolStrokeWidth": 3, "labelOffset": 30, "rowPadding": 11, "padding": 8, "strokeColor": "black", "fillColor": "white"}}
 }
},
{
 "data": {"name": "b"},
 "mark": {"type": "line", "strokeWidth": 2.8, "clip": true},
 "encoding": {"x": {"field": "x", "type": "quantitative"}, "y": {"field": "y", "type": "quantitative"}, "color": {"datum": "1:0 pH4", "type": "nominal"}}
},
{
 "data": {"name": "c"},
 "mark": {"type": "line", "strokeWidth": 2.8, "clip": true},
 "encoding": {"x": {"field": "x", "type": "quantitative"}, "y": {"field": "y", "type": "quantitative"}, "color": {"datum": "8:2 pH10", "type": "nominal"}}
},
{
 "data": {"name": "d"},
 "mark": {"type": "line", "strokeWidth": 2.8, "clip": true},
 "encoding": {"x": {"field": "x", "type": "quantitative"}, "y": {"field": "y", "type": "quantitative"}, "color": {"datum": "8:2 pH4", "type": "nominal"}}
},
{
 "data": {"name": "notes"},
 "mark": {"type": "text", "align": "left", "baseline": "middle", "fontSize": 21, "color": "black", "font": "Liberation Sans"},
 "encoding": {"x": {"field": "x", "type": "quantitative"}, "y": {"field": "y", "type": "quantitative"}, "text": {"field": "label"}}
}
]
}
